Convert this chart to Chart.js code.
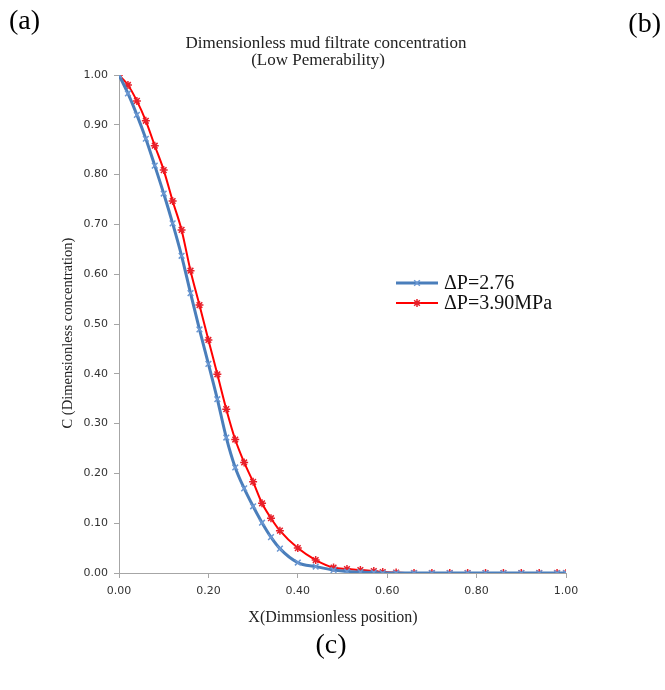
<!DOCTYPE html>
<html><head><meta charset="utf-8">
<script src="https://cdn.jsdelivr.net/npm/chart.js@4.4.1/dist/chart.umd.min.js"></script>
<style>html,body{margin:0;padding:0;background:#fff;}#wrap{position:relative;width:665px;height:690px;}</style>
</head><body><div id="wrap"><canvas id="c" width="665" height="690"></canvas></div>
<script>
// Dimensionless position (x)
const xPositions = [0, 0.02, 0.04, 0.06, 0.08, 0.10, 0.12, 0.14, 0.16, 0.18, 0.20, 0.22, 0.24, 0.26, 0.28, 0.30, 0.32, 0.34, 0.36, 0.40, 0.44, 0.48, 0.51, 0.54, 0.57, 0.59, 0.62, 0.66, 0.70, 0.74, 0.78, 0.82, 0.86, 0.90, 0.94, 0.98, 1.00];
// ΔP=2.76
const concLow = [1.000, 0.963, 0.920, 0.872, 0.818, 0.762, 0.702, 0.637, 0.562, 0.489, 0.420, 0.349, 0.272, 0.212, 0.170, 0.134, 0.101, 0.072, 0.049, 0.021, 0.013, 0.006, 0.003, 0.002, 0.001, 0, 0, 0, 0, 0, 0, 0, 0, 0, 0, 0, 0];
// ΔP=3.90MPa
const concHigh = [1.000, 0.980, 0.948, 0.908, 0.858, 0.809, 0.747, 0.689, 0.607, 0.538, 0.468, 0.399, 0.329, 0.268, 0.222, 0.183, 0.140, 0.110, 0.085, 0.050, 0.026, 0.011, 0.008, 0.006, 0.004, 0.002, 0.001, 0, 0, 0, 0, 0, 0, 0, 0, 0, 0];
const seriesLabels = ['\u0394P=2.76', '\u0394P=3.90MPa'];
const titleLines = ['Dimensionless mud filtrate concentration', '(Low Pemerability)'];
const xAxisTitle = 'X(Dimmsionless position)';
const yAxisTitle = 'C (Dimensionless concentration)';
const panelLabels = ['(a)', '(b)', '(c)'];

const BLUE = '#4a7ebb', RED = '#ff0000', AXIS = '#a6a6a6';
const SERIF = '"Liberation Serif", "Times New Roman", serif';

const toPts = ys => xPositions.map((x, i) => ({x: x, y: ys[i]}));

const textPlugin = {
  id: 'texts',
  afterDraw(chart) {
    const ctx = chart.ctx;
    ctx.save();
    ctx.fillStyle = '#000';
    ctx.textBaseline = 'middle';
    // panel labels
    ctx.font = '28px ' + SERIF;
    ctx.textAlign = 'left';
    ctx.fillText(panelLabels[0], 9, 22);
    ctx.textAlign = 'right';
    ctx.fillText(panelLabels[1], 661, 25);
    ctx.textAlign = 'center';
    ctx.fillText(panelLabels[2], 331, 646);
    // title
    ctx.fillStyle = '#222';
    ctx.font = '17px ' + SERIF;
    ctx.fillText(titleLines[0], 326, 44);
    ctx.fillText(titleLines[1], 318, 61);
    // axis titles
    ctx.font = '16px ' + SERIF;
    ctx.fillText(xAxisTitle, 333, 618);
    ctx.save();
    ctx.translate(68, 333);
    ctx.rotate(-Math.PI / 2);
    ctx.font = '14.5px ' + SERIF;
    ctx.fillText(yAxisTitle, 0, 0);
    ctx.restore();
    // legend
    const items = chart.data.datasets;
    const ly = [283, 303];
    items.forEach((ds, i) => {
      ctx.strokeStyle = ds.borderColor;
      ctx.lineWidth = ds.borderWidth;
      ctx.beginPath();
      ctx.moveTo(396, ly[i]);
      ctx.lineTo(438, ly[i]);
      ctx.stroke();
      ctx.strokeStyle = ds.pointBorderColor;
      ctx.lineWidth = ds.pointBorderWidth;
      Chart.helpers.drawPoint(ctx, {pointStyle: ds.pointStyle, radius: 4, rotation: 0, borderWidth: ds.pointBorderWidth}, 417, ly[i]);
      ctx.fillStyle = '#111';
      ctx.textAlign = 'left';
      ctx.font = '20px ' + SERIF;
      ctx.fillText(ds.label, 444, ly[i] + 1);
    });
    ctx.restore();
  }
};

const tickFont = {family: '"DejaVu Sans", Verdana, sans-serif', size: 11};

new Chart(document.getElementById('c'), {
  type: 'line',
  data: {
    datasets: [
      {label: seriesLabels[0], data: toPts(concLow), borderColor: BLUE, borderWidth: 3,
       pointStyle: 'crossRot', pointRadius: 4, pointBorderColor: '#6a97d2', pointBorderWidth: 1.5,
       cubicInterpolationMode: 'monotone', fill: false},
      {label: seriesLabels[1], data: toPts(concHigh), borderColor: RED, borderWidth: 2,
       pointStyle: 'star', pointRadius: 4, pointBorderColor: '#e8202a', pointBorderWidth: 1.5,
       cubicInterpolationMode: 'monotone', fill: false}
    ]
  },
  options: {
    responsive: false, animation: false, devicePixelRatio: 1,
    layout: {padding: {left: 0, top: 75, right: 99, bottom: 0}},
    plugins: {legend: {display: false}, title: {display: false}, tooltip: {enabled: false}},
    scales: {
      x: {type: 'linear', min: 0, max: 1,
          ticks: {stepSize: 0.2, callback: v => Number(v).toFixed(2), font: tickFont, color: '#333', padding: 7, maxRotation: 0},
          grid: {drawOnChartArea: false, drawTicks: true, tickLength: 5, color: AXIS},
          border: {color: AXIS, width: 1},
          afterFit: s => { s.height = 117; }},
      y: {type: 'linear', min: 0, max: 1,
          ticks: {stepSize: 0.1, callback: v => Number(v).toFixed(2), font: tickFont, color: '#333', padding: 6},
          grid: {drawOnChartArea: false, drawTicks: true, tickLength: 5, color: AXIS},
          border: {color: AXIS, width: 1},
          afterFit: s => { s.width = 119; }}
    }
  },
  plugins: [textPlugin]
});
</script></body></html>
